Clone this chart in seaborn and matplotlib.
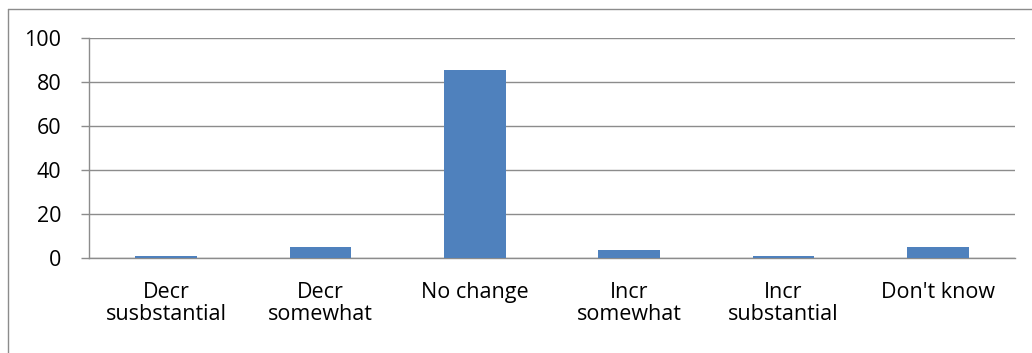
import matplotlib
matplotlib.use("Agg")
import matplotlib.pyplot as plt
from matplotlib.lines import Line2D
import seaborn as sns
import pandas as pd

categories = ["Decr\nsusbstantial", "Decr\nsomewhat", "No change",
              "Incr\nsomewhat", "Incr\nsubstantial", "Don't know"]
values = [1.0, 4.8, 85.4, 3.5, 0.9, 4.8]
yticks = [0, 20, 40, 60, 80, 100]

sns.set_theme(style="white")
plt.rcParams["font.family"] = ["Open Sans", "DejaVu Sans"]

df = pd.DataFrame({"category": categories, "value": values})

fig = plt.figure(figsize=(10.32, 3.53), dpi=100)
ax = fig.add_axes([89 / 1032, 1 - 258 / 353, (1015 - 89) / 1032, 220 / 353])

sns.barplot(data=df, x="category", y="value", color="#4F81BD",
            width=0.4, saturation=1, linewidth=0, ax=ax, zorder=3)

grid_c = "#8C8C8C"
fs = 15.5
ax.set_ylim(0, 100)
ax.set_xlim(-0.5, len(categories) - 0.5)
ax.set_yticks(yticks)
ax.set_yticklabels([str(t) for t in yticks], fontsize=fs, color="black")
ax.yaxis.grid(True, color=grid_c, linewidth=1.0, zorder=0)
ax.set_axisbelow(True)

ax.set_xticks(range(len(categories)))
ax.set_xticklabels(categories, fontsize=fs, color="black", linespacing=1.1)
ax.set_xticks([i - 0.5 for i in range(len(categories) + 1)], minor=True)
ax.tick_params(axis="x", which="major", length=0, pad=17)
ax.tick_params(axis="x", which="minor", length=6, color=grid_c, width=1, direction="out")
ax.tick_params(axis="y", which="major", length=6, color=grid_c, width=1,
               direction="out", left=True, pad=14)
ax.set_xlabel("")
ax.set_ylabel("")

for side in ["top", "right"]:
    ax.spines[side].set_visible(False)
ax.spines["left"].set_color(grid_c)
ax.spines["bottom"].set_color(grid_c)
ax.spines["left"].set_linewidth(1.0)
ax.spines["bottom"].set_linewidth(1.0)

# chart-area frame along the top and left edges
bx, by = 7.5 / 1032, 1 - 8.5 / 353
fig.add_artist(Line2D([bx, 1], [by, by], transform=fig.transFigure, color=grid_c, lw=1))
fig.add_artist(Line2D([bx, bx], [0, by], transform=fig.transFigure, color=grid_c, lw=1))

fig.savefig("out.png", dpi=100)
